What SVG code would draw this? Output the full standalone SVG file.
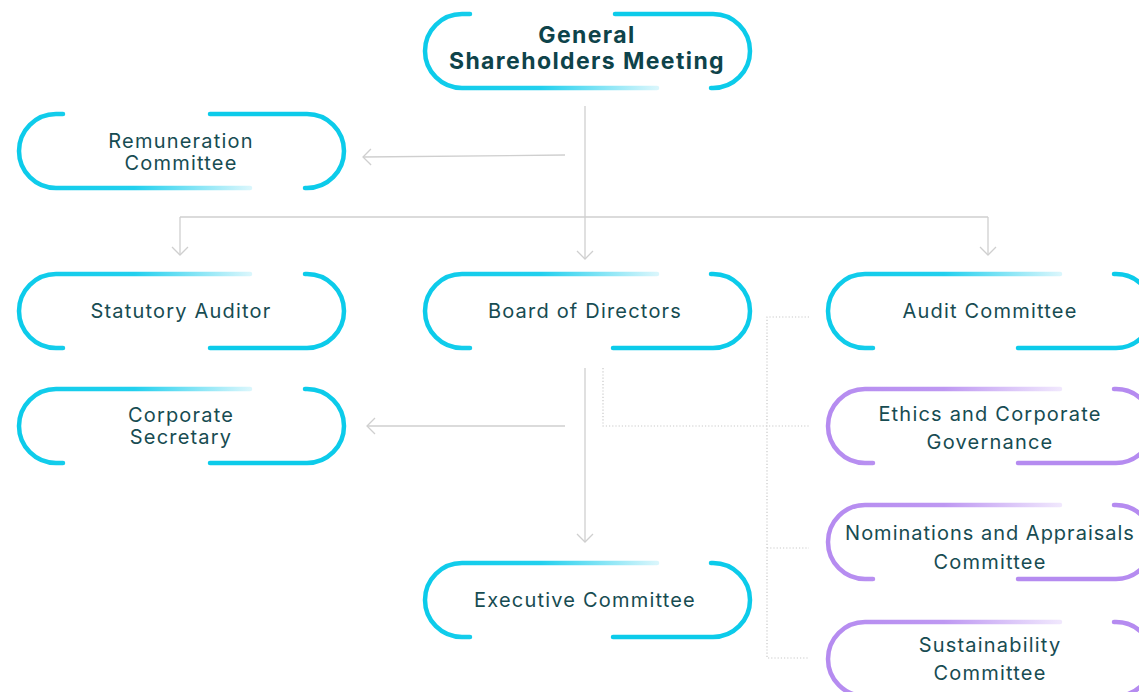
<svg xmlns="http://www.w3.org/2000/svg" width="1139" height="692" viewBox="0 0 1139 692">
<defs>
<style>
.c{fill:none;stroke-width:4.5;stroke-linecap:round}
.cy{stroke:#0CCBEA}
.pu{stroke:#B58BF0}
.t{font-family:Inter,"Liberation Sans",sans-serif;font-size:20px;letter-spacing:1.2px;fill:#174C52;text-anchor:middle}
.tb{font-family:Inter,"Liberation Sans",sans-serif;font-size:23px;letter-spacing:1.4px;font-weight:700;fill:#0E434A;text-anchor:middle}
.ln{fill:none;stroke:#CFCFCF;stroke-width:1.3}
.dt{fill:none;stroke:#C9C9C9;stroke-width:1.2;stroke-dasharray:1.2 2}
</style>
<linearGradient id="gc" x1="0" y1="0" x2="1" y2="0">
<stop offset="0" stop-color="#0CCBEA"/>
<stop offset="0.5" stop-color="#22D0EE"/>
<stop offset="1" stop-color="#D9F6FC"/>
</linearGradient>
<linearGradient id="gp" x1="0" y1="0" x2="1" y2="0">
<stop offset="0" stop-color="#B58BF0"/>
<stop offset="0.5" stop-color="#BE98F2"/>
<stop offset="1" stop-color="#F0E7FD"/>
</linearGradient>
<marker id="ar" viewBox="0 0 20 20" refX="10" refY="10" markerWidth="20" markerHeight="20" markerUnits="userSpaceOnUse" orient="auto">
<path d="M2,2 L10,10 L2,18" fill="none" stroke="#CFCFCF" stroke-width="1.3"/>
</marker>
</defs>
<rect width="1139" height="692" fill="#FFFFFF"/>

<g id="connectors">
<path class="ln" d="M585,106 V259" marker-end="url(#ar)"/>
<path class="ln" d="M565,155 L363,157" marker-end="url(#ar)"/>
<path class="ln" d="M180,217 H988"/>
<path class="ln" d="M180,217 V255" marker-end="url(#ar)"/>
<path class="ln" d="M988,217 V255" marker-end="url(#ar)"/>
<path class="ln" d="M565,426 H367" marker-end="url(#ar)"/>
<path class="ln" d="M585,368 V542" marker-end="url(#ar)"/>
<path class="dt" d="M603,368 V426 H810"/>
<path class="dt" d="M809,317 H767 V658 H809"/>
<path class="dt" d="M767,548 H809"/>
</g>

<g id="node-gsm">
<path class="c" stroke="url(#gc)" d="M470,14 H462 A37,37 0 0 0 462,88 H657"/>
<path class="c cy" d="M615,14 H713 A37,37 0 0 1 713,88 H711"/>
<text class="tb" x="587" y="43">General</text>
<text class="tb" x="587" y="69">Shareholders Meeting</text>
</g>

<g id="node-remuneration">
<path class="c" stroke="url(#gc)" d="M63,114 H56 A37,37 0 0 0 56,188 H250"/>
<path class="c cy" d="M210,114 H307 A37,37 0 0 1 307,188 H305"/>
<text class="t" x="181" y="148">Remuneration</text>
<text class="t" x="181" y="170">Committee</text>
</g>

<g id="node-statutory">
<path class="c" stroke="url(#gc)" d="M63,348 H56 A37,37 0 0 1 56,274 H250"/>
<path class="c cy" d="M210,348 H307 A37,37 0 0 0 307,274 H305"/>
<text class="t" x="181" y="318">Statutory Auditor</text>
</g>

<g id="node-board">
<path class="c" stroke="url(#gc)" d="M470,348 H462 A37,37 0 0 1 462,274 H657"/>
<path class="c cy" d="M613,348 H713 A37,37 0 0 0 713,274 H711"/>
<text class="t" x="585" y="318">Board of Directors</text>
</g>

<g id="node-audit">
<path class="c" stroke="url(#gc)" d="M873,348 H865 A37,37 0 0 1 865,274 H1060"/>
<path class="c cy" d="M1018,348 H1116 A37,37 0 0 0 1116,274 H1114"/>
<text class="t" x="990" y="318">Audit Committee</text>
</g>

<g id="node-secretary">
<path class="c" stroke="url(#gc)" d="M63,463 H56 A37,37 0 0 1 56,389 H250"/>
<path class="c cy" d="M210,463 H307 A37,37 0 0 0 307,389 H305"/>
<text class="t" x="181" y="422">Corporate</text>
<text class="t" x="181" y="444">Secretary</text>
</g>

<g id="node-ethics">
<path class="c" stroke="url(#gp)" d="M873,463 H865 A37,37 0 0 1 865,389 H1060"/>
<path class="c pu" d="M1018,463 H1116 A37,37 0 0 0 1116,389 H1114"/>
<text class="t" x="990" y="421">Ethics and Corporate</text>
<text class="t" x="990" y="449">Governance</text>
</g>

<g id="node-nominations">
<path class="c" stroke="url(#gp)" d="M873,579 H865 A37,37 0 0 1 865,505 H1060"/>
<path class="c pu" d="M1018,579 H1116 A37,37 0 0 0 1116,505 H1114"/>
<text class="t" x="990" y="540" style="letter-spacing:1px">Nominations and Appraisals</text>
<text class="t" x="990" y="569">Committee</text>
</g>

<g id="node-executive">
<path class="c" stroke="url(#gc)" d="M470,637 H462 A37,37 0 0 1 462,563 H657"/>
<path class="c cy" d="M613,637 H713 A37,37 0 0 0 713,563 H711"/>
<text class="t" x="585" y="607">Executive Committee</text>
</g>

<g id="node-sustainability">
<path class="c" stroke="url(#gp)" d="M873,696 H865 A37,37 0 0 1 865,622 H1060"/>
<path class="c pu" d="M1018,696 H1116 A37,37 0 0 0 1116,622 H1114"/>
<text class="t" x="990" y="652">Sustainability</text>
<text class="t" x="990" y="680">Committee</text>
</g>
</svg>
